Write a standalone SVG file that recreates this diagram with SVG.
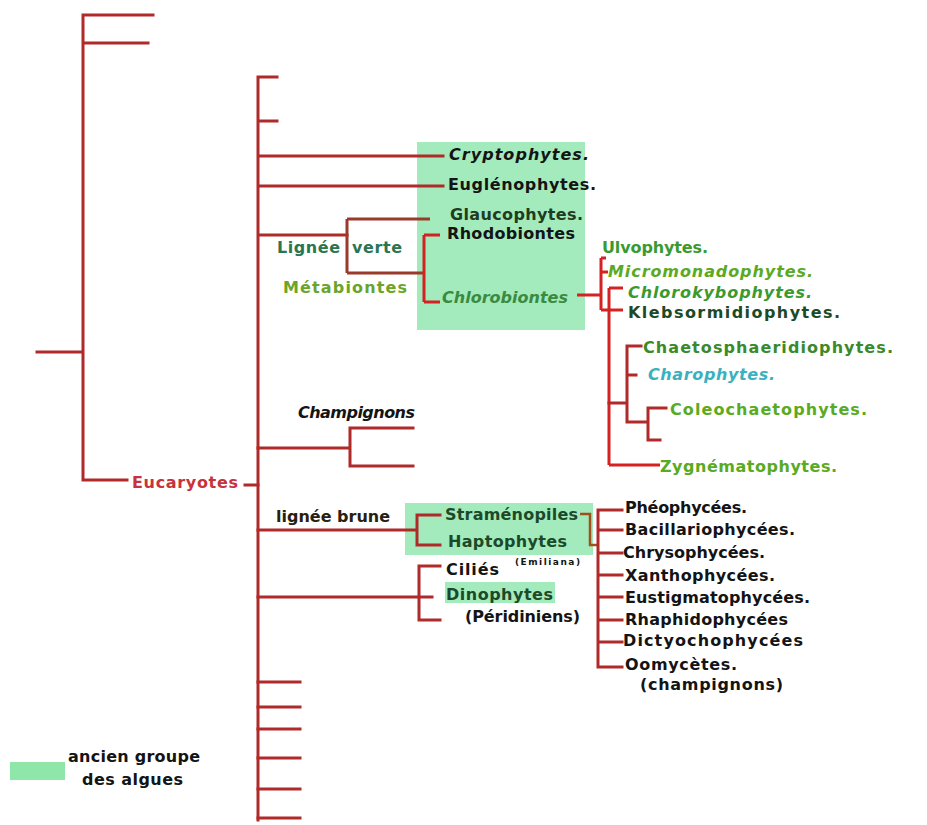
<svg xmlns="http://www.w3.org/2000/svg" width="927" height="825" viewBox="0 0 927 825">
<style>
.ln{fill:none;stroke:#b02a2a;stroke-width:3;stroke-linecap:square}
.lb{fill:none;stroke:#d42222;stroke-width:3}
.lg{fill:none;stroke:#9a3a2a;stroke-width:3}
.lh{fill:none;stroke:#a0501a;stroke-width:2.5}
.box{fill:#a3ebbd}
text{font-family:"DejaVu Sans","Noto Sans",sans-serif;font-size:16px;font-weight:bold}
.k{fill:#141414}
.dg{fill:#1c4a28}
.g1{fill:#3a9a30}
.g2{fill:#5aaa22}
.it{font-style:italic}
</style>
<rect width="927" height="825" fill="#ffffff"/>
<g id="boxes">
<rect class="box" x="417" y="142" width="168" height="188"/>
<rect class="box" x="405" y="503" width="188" height="52"/>
<rect class="box" x="445" y="582" width="110" height="21"/>
</g>
<g id="connectors">
<path class="ln" d="M83,15 V480 M83,15 H153 M83,43 H148 M37,352 H83 M83,480 H127 M245,485 H258"/>
<path class="ln" d="M258,77 V820 M258,77 H277 M258,121 H277 M258,156 H443 M258,186 H443 M258,235 H347"/>
<path class="lg" d="M347,219 V273 M347,219 H430 M347,273 H424"/>
<path class="lb" d="M424,235 V302 M424,235 H440 M424,302 H440"/>
<path class="lb" d="M577,295 H601 M601,258 V310 M601,258 H606 M601,272 H608 M601,310 H623 M609,288 V465 M609,288 H623 M609,465 H660"/>
<path class="ln" d="M609,403 H627 M627,346 V422 M627,346 H641 M627,375 H636 M627,422 H648 M648,408 V440 M648,408 H666 M648,440 H660"/>
<path class="ln" d="M258,448 H350 M350,428 V466 M350,428 H413 M350,466 H413"/>
<path class="ln" d="M258,530 H417 M417,515 V545 M417,515 H440 M417,545 H440"/>
<path class="lh" d="M580,514 H590 V545 H598"/>
<path class="ln" d="M598,510 V667 M598,510 H622 M598,530 H622 M598,553 H622 M598,575 H622 M598,597 H622 M598,620 H622 M598,642 H622 M598,667 H622"/>
<path class="ln" d="M258,597 H432 M419,566 V620 M419,566 H440 M419,620 H440"/>
<path class="ln" d="M258,682 H300 M258,707 H300 M258,729 H300 M258,758 H300 M258,789 H300 M258,818 H300"/>
</g>
<g id="n-eucaryotes"><text x="132" y="488" textLength="106" style="fill:#c8323c">Eucaryotes</text></g>
<g id="n-cryptophytes"><text class="k it" x="449" y="160" textLength="140">Cryptophytes.</text></g>
<g id="n-euglenophytes"><text class="k" x="448" y="190" textLength="148">Euglénophytes.</text></g>
<g id="n-glaucophytes"><text x="450" y="220" textLength="133" style="fill:#1e3d1e">Glaucophytes.</text></g>
<g id="n-rhodobiontes"><text class="k" x="447" y="239" textLength="128">Rhodobiontes</text></g>
<g id="n-lignee-verte"><text x="277" y="253" textLength="63" style="fill:#2a7552">Lignée</text><text x="352" y="253" textLength="50" style="fill:#2a7552">verte</text></g>
<g id="n-metabiontes"><text x="283" y="293" textLength="124" style="fill:#6aa52a">Métabiontes</text></g>
<g id="n-chlorobiontes"><text class="it" x="442" y="303" textLength="126" style="fill:#3a8a40">Chlorobiontes</text></g>
<g id="n-ulvophytes"><text class="g1" x="602" y="253" textLength="106">Ulvophytes.</text></g>
<g id="n-micromonadophytes"><text class="g2 it" x="608" y="277" textLength="205">Micromonadophytes.</text></g>
<g id="n-chlorokybophytes"><text class="g1 it" x="628" y="298" textLength="184">Chlorokybophytes.</text></g>
<g id="n-klebsormidiophytes"><text class="dg" x="628" y="318" textLength="212">Klebsormidiophytes.</text></g>
<g id="n-chaetosphaeridiophytes"><text x="643" y="353" textLength="250" style="fill:#3a8a2a">Chaetosphaeridiophytes.</text></g>
<g id="n-charophytes"><text class="it" x="648" y="380" textLength="127" style="fill:#3ab0c0">Charophytes.</text></g>
<g id="n-coleochaetophytes"><text class="g2" x="670" y="415" textLength="197">Coleochaetophytes.</text></g>
<g id="n-zygnematophytes"><text class="g2" x="660" y="472" textLength="177">Zygnématophytes.</text></g>
<g id="n-champignons"><text class="k it" x="298" y="418" textLength="117">Champignons</text></g>
<g id="n-lignee-brune"><text x="276" y="522" textLength="114" style="fill:#2a2010">lignée brune</text></g>
<g id="n-stramenopiles"><text class="dg" x="445" y="520" textLength="133">Straménopiles</text></g>
<g id="n-haptophytes"><text class="dg" x="448" y="547" textLength="119">Haptophytes</text><text class="k" x="515" y="565" textLength="65" style="font-size:9px">(Emiliana)</text></g>
<g id="n-cilies"><text class="k" x="446" y="575" textLength="53">Ciliés</text></g>
<g id="n-dinophytes"><text class="dg" x="446" y="600" textLength="107">Dinophytes</text><text class="k" x="465" y="622" textLength="115">(Péridiniens)</text></g>
<g id="n-pheophycees"><text class="k" x="625" y="513" textLength="122">Phéophycées.</text></g>
<g id="n-bacillariophycees"><text class="k" x="625" y="535" textLength="170">Bacillariophycées.</text></g>
<g id="n-chrysophycees"><text class="k" x="623" y="558" textLength="142">Chrysophycées.</text></g>
<g id="n-xanthophycees"><text class="k" x="625" y="581" textLength="150">Xanthophycées.</text></g>
<g id="n-eustigmatophycees"><text class="k" x="625" y="603" textLength="185">Eustigmatophycées.</text></g>
<g id="n-rhaphidophycees"><text class="k" x="625" y="625" textLength="163">Rhaphidophycées</text></g>
<g id="n-dictyochophycees"><text class="k" x="623" y="646" textLength="180">Dictyochophycées</text></g>
<g id="n-oomycetes"><text class="k" x="625" y="670" textLength="112">Oomycètes.</text><text class="k" x="640" y="690" textLength="143">(champignons)</text></g>
<g id="legend">
<rect x="10" y="762" width="55" height="18" fill="#8ee6a8"/>
<text class="k" x="68" y="762" textLength="132">ancien groupe</text>
<text class="k" x="82" y="785" textLength="101">des algues</text>
</g>
</svg>
